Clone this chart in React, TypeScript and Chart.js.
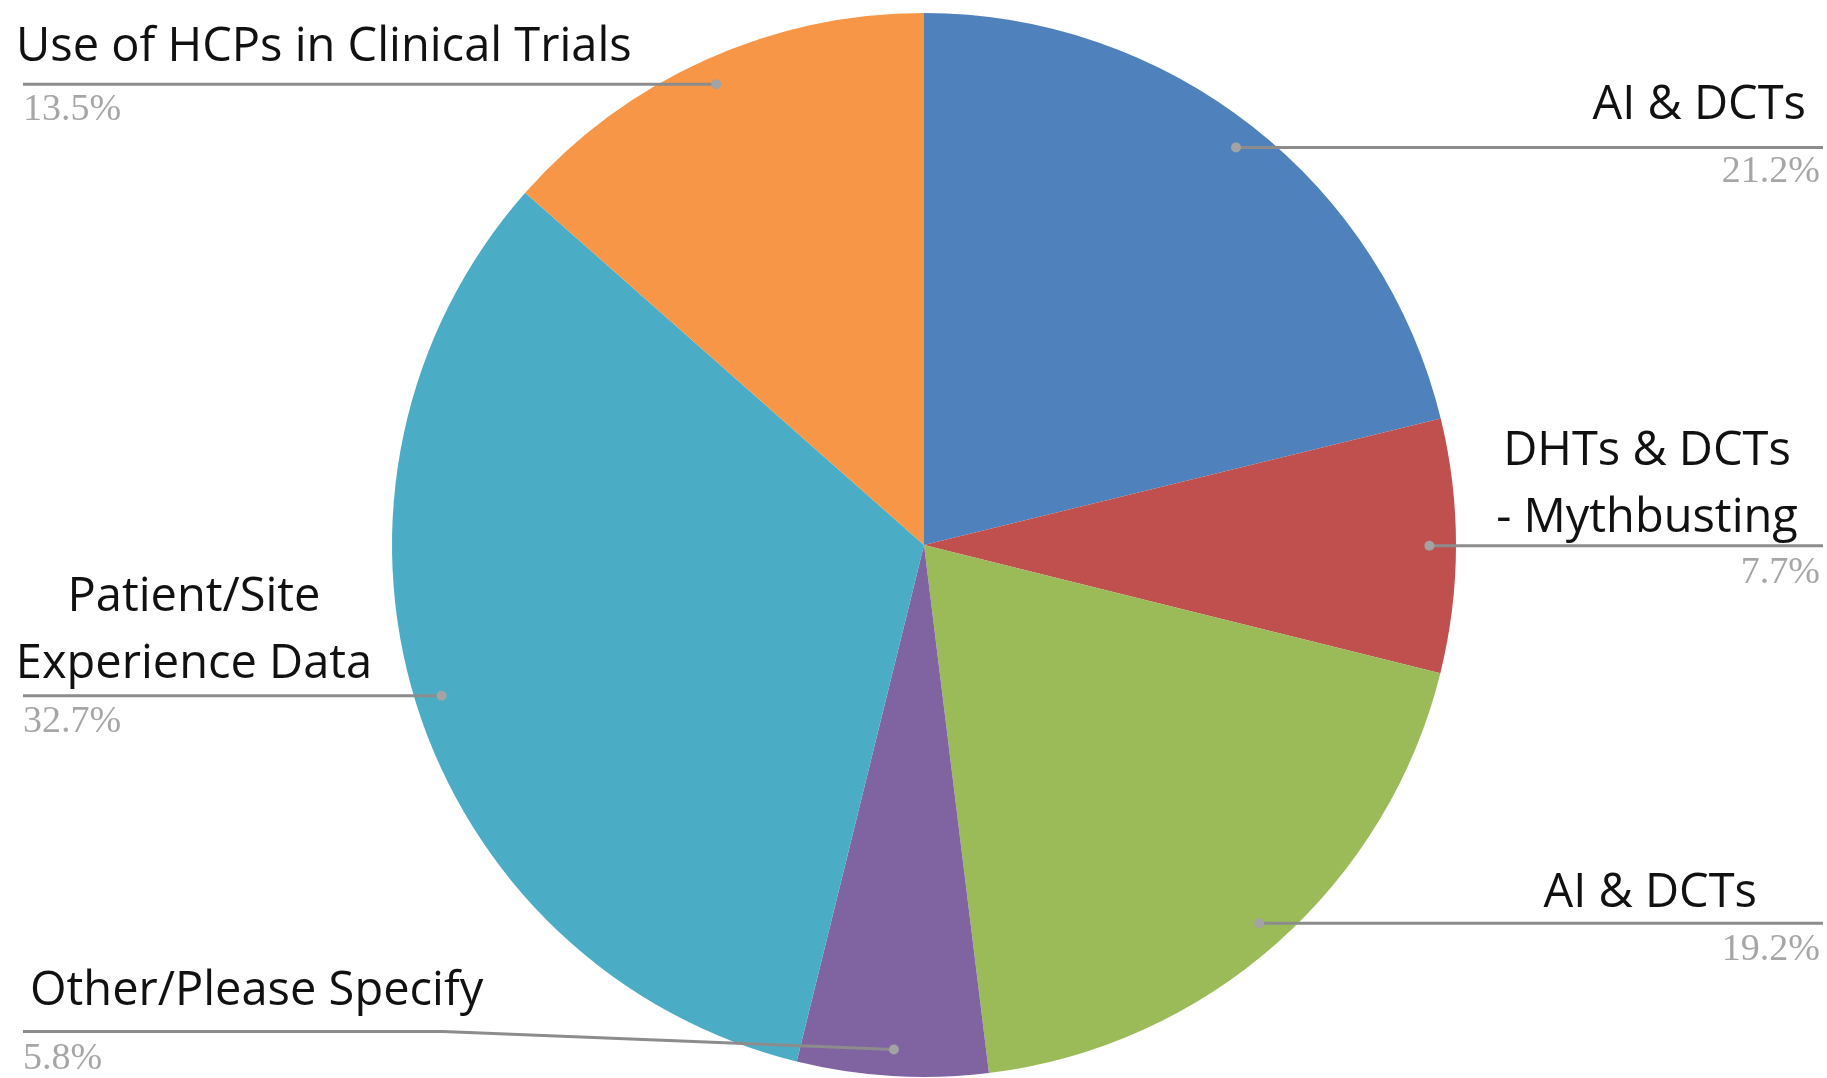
import React, { useEffect, useRef } from "react";
import { Chart, registerables } from "chart.js";

Chart.register(...registerables);

const categories = [
  "AI & DCTs",
  "DHTs & DCTs\n- Mythbusting",
  "AI & DCTs",
  "Other/Please Specify",
  "Patient/Site\nExperience Data",
  "Use of HCPs in Clinical Trials",
];
const shares = [21.2, 7.7, 19.2, 5.8, 32.7, 13.5];
const percentLabels = ["21.2%", "7.7%", "19.2%", "5.8%", "32.7%", "13.5%"];
const sliceColors = ["#4F81BD", "#C0504D", "#9BBB59", "#8064A2", "#4BACC6", "#F79646"];

// label layout (annotation placement only)
type Place = {
  side: "left" | "right";
  textAlign: "left" | "right" | "center";
  textX: number;
  textDy: number[];
  pctDy: number;
  elbow?: { x: number; dy: number };
};
const placements: Place[] = [
  { side: "right", textAlign: "right", textX: 1806, textDy: [-42], pctDy: 25 },
  { side: "right", textAlign: "center", textX: 1647, textDy: [-94, -27], pctDy: 27 },
  { side: "right", textAlign: "right", textX: 1757, textDy: [-30], pctDy: 27 },
  { side: "left", textAlign: "left", textX: 30, textDy: [-40], pctDy: 28, elbow: { x: 443, dy: -18 } },
  { side: "left", textAlign: "center", textX: 194, textDy: [-98, -31], pctDy: 26 },
  { side: "left", textAlign: "left", textX: 16, textDy: [-37], pctDy: 26 },
];

const LEFT_END = 23;
const RIGHT_END = 1823;
const PCT_LEFT = 23;
const PCT_RIGHT = 1820;

const leaderPlugin = {
  id: "leaders",
  afterDraw(chart: any) {
    const ctx = chart.ctx;
    const meta = chart.getDatasetMeta(0);
    meta.data.forEach((arc: any, i: number) => {
      const p = placements[i];
      const mid = (arc.startAngle + arc.endAngle) / 2;
      const r = arc.outerRadius * 0.95;
      const dx = arc.x + Math.cos(mid) * r;
      const dy = arc.y + Math.sin(mid) * r;
      ctx.save();
      ctx.strokeStyle = "#8c8c8c";
      ctx.lineWidth = 3;
      ctx.beginPath();
      ctx.moveTo(dx, dy);
      let ly = dy;
      if (p.elbow) {
        ly = dy + p.elbow.dy;
        ctx.lineTo(p.elbow.x, ly);
      }
      ctx.lineTo(p.side === "left" ? LEFT_END : RIGHT_END, ly);
      ctx.stroke();
      ctx.fillStyle = "#a3a3a3";
      ctx.beginPath();
      ctx.arc(dx, dy, 5, 0, Math.PI * 2);
      ctx.fill();

      ctx.fillStyle = "#111111";
      ctx.font = "47px 'Open Sans'";
      ctx.textBaseline = "middle";
      ctx.textAlign = p.textAlign;
      const lines = categories[i].split("\n");
      lines.forEach((t, k) => {
        ctx.fillText(t, p.textX, ly + p.textDy[k]);
      });

      ctx.fillStyle = "#a6a6a6";
      ctx.font = "38px 'Liberation Serif'";
      ctx.textAlign = p.side === "left" ? "left" : "right";
      ctx.fillText(percentLabels[i], p.side === "left" ? PCT_LEFT : PCT_RIGHT, ly + p.pctDy);
      ctx.restore();
    });
  },
};

export default function App() {
  const ref = useRef<HTMLCanvasElement | null>(null);
  useEffect(() => {
    document.body.style.margin = "0";
    const chart = new Chart(ref.current as HTMLCanvasElement, {
      type: "pie",
      data: {
        labels: categories,
        datasets: [
          {
            data: shares,
            backgroundColor: sliceColors,
            borderWidth: 0,
          },
        ],
      },
      options: {
        responsive: false,
        animation: false,
        layout: { padding: { left: 392, right: 371, top: 13, bottom: 1 } },
        plugins: { legend: { display: false }, tooltip: { enabled: false } },
      },
      plugins: [leaderPlugin],
    });
    return () => chart.destroy();
  }, []);
  return (
    <div style={{ position: "fixed", left: 0, top: 0, width: 1827, height: 1078, background: "#fff" }}>
      <canvas ref={ref} width={1827} height={1078} style={{ display: "block" }} />
    </div>
  );
}
